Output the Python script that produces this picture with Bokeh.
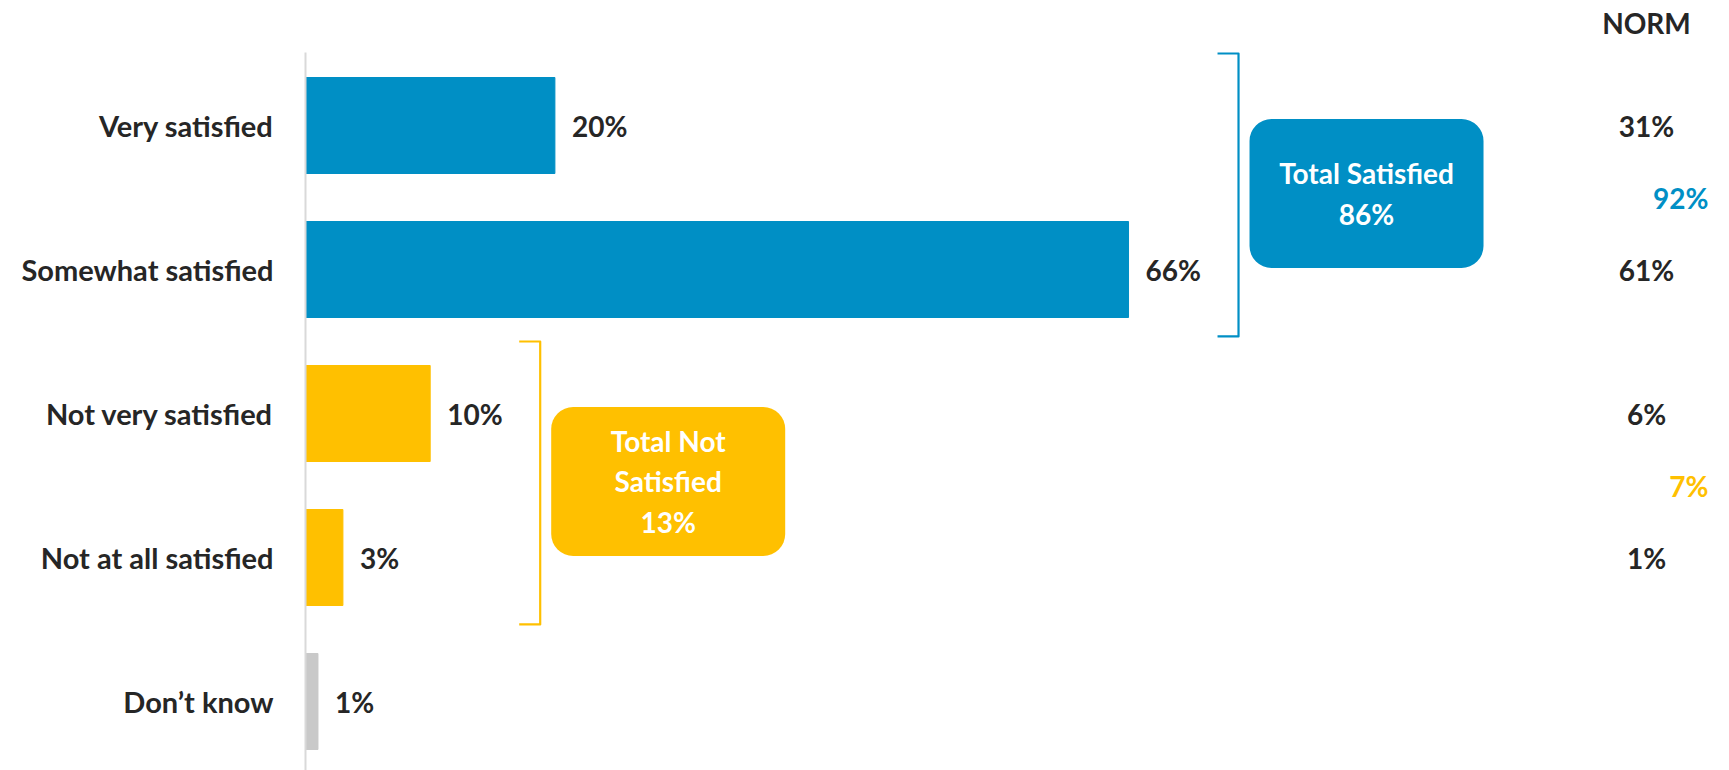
from bokeh.plotting import figure
from bokeh.models import Range1d, LinearAxis, FixedTicker, BoxAnnotation, ColumnDataSource
from bokeh.core.properties import value
from bokeh.embed import file_html
from bokeh.resources import INLINE

# ---- data ----
categories = ["Very satisfied", "Somewhat satisfied", "Not very satisfied",
              "Not at all satisfied", "Don\u2019t know"]
values = [20, 66, 10, 3, 1]
groups = ["sat", "sat", "notsat", "notsat", "dk"]
norm_values = [31, 61, 6, 1]
group_labels = {"sat": "Total Satisfied", "notsat": "Total Not\nSatisfied"}
norm_totals = {"sat": 92, "notsat": 7}
norm_header = "NORM"

# ---- style ----
BLUE = "#008FC5"
YELLOW = "#FFC000"
GRAY = "#C9C9C9"
TXT = "#262626"
FONT = "Lato"
group_colors = {"sat": BLUE, "notsat": YELLOW, "dk": GRAY}

W, H = 1729, 770
LEFT = 305
PXU = 12.47           # pixels per percentage point
ROW_PX = 144
ROW0_PX = 125
px = lambda n: n / PXU  # pixel length -> data units

rows = list(range(len(categories)))

p = figure(width=W, height=H, output_backend="svg", toolbar_location=None,
           x_range=Range1d(0, (W - LEFT) / PXU),
           y_range=Range1d((H - ROW0_PX) / ROW_PX, -ROW0_PX / ROW_PX),
           x_axis_location=None, y_axis_location=None,
           min_border_left=LEFT, min_border_right=0, min_border_top=0, min_border_bottom=0)
p.outline_line_color = None
p.grid.visible = False
p.background_fill_color = "white"
p.border_fill_color = "white"

axis = LinearAxis(ticker=FixedTicker(ticks=rows),
                  major_label_overrides={i: c for i, c in zip(rows, categories)},
                  bounds=(-0.507, (H - ROW0_PX) / ROW_PX))
axis.axis_line_color = "#D9D9D9"
axis.axis_line_width = 2
axis.major_tick_line_color = None
axis.minor_tick_line_color = None
axis.major_label_standoff = 26
axis.major_label_text_font = FONT
axis.major_label_text_font_style = "bold"
axis.major_label_text_font_size = "29px"
axis.major_label_text_color = TXT
p.add_layout(axis, "left")

src = ColumnDataSource(dict(
    y=rows, v=values, color=[group_colors[g] for g in groups],
    label=[f"{v}%" for v in values]))
p.hbar(y="y", left=0, right="v", height=96 / ROW_PX, color="color", source=src)
p.text(x="v", y="y", text="label", source=src, x_offset=17,
       text_baseline="middle", text_align="left", text_font=value(FONT),
       text_font_style="bold", text_font_size="28px", text_color=TXT)

# ---- group brackets + boxes ----
for g in ["sat", "notsat"]:
    idx = [i for i, gg in enumerate(groups) if gg == g]
    gmax = max(values[i] for i in idx)
    total = sum(values[i] for i in idx)
    color = group_colors[g]
    bx = gmax + px(110)
    top = idx[0] - 0.5
    bot = idx[-1] + 0.465
    tick = px(21)
    p.line(x=[bx - tick, bx, bx, bx - tick], y=[top, top, bot, bot],
           line_color=color, line_width=2.2, line_join="round")
    cy = (top + bot) / 2 - 1.5 / ROW_PX
    half_h = 149 / 2 / ROW_PX
    bl = bx + px(11)
    br = bl + px(234)
    box = BoxAnnotation(left=bl, right=br, top=cy - half_h, bottom=cy + half_h,
                        fill_color=color, fill_alpha=1, line_color=None,
                        border_radius=22, level="underlay")
    p.add_layout(box)
    p.text(x=[(bl + br) / 2], y=[cy], text=[f"{group_labels[g]}\n{total}%"],
           text_align="center", text_baseline="middle", text_font=value(FONT),
           text_font_style="bold", text_font_size="28px", text_color="white",
           text_line_height=1.2)
    # norm total
    p.text(x=[px(1708 - LEFT)], y=[(idx[0] + idx[-1]) / 2],
           text=[f"{norm_totals[g]}%"], text_align="right", text_baseline="middle",
           text_font=value(FONT), text_font_style="bold", text_font_size="28px",
           text_color=color)

# ---- norm column ----
norm_x = px(1646 - LEFT)
p.text(x=[norm_x] * len(norm_values), y=rows[:len(norm_values)],
       text=[f"{v}%" for v in norm_values], text_align="center", text_baseline="middle",
       text_font=value(FONT), text_font_style="bold", text_font_size="28px", text_color=TXT)
p.text(x=[norm_x], y=[(22 - ROW0_PX) / ROW_PX], text=[norm_header], text_align="center",
       text_baseline="middle", text_font=value(FONT), text_font_style="bold",
       text_font_size="28px", text_color=TXT)

open("out.html", "w").write(file_html(p, INLINE))
